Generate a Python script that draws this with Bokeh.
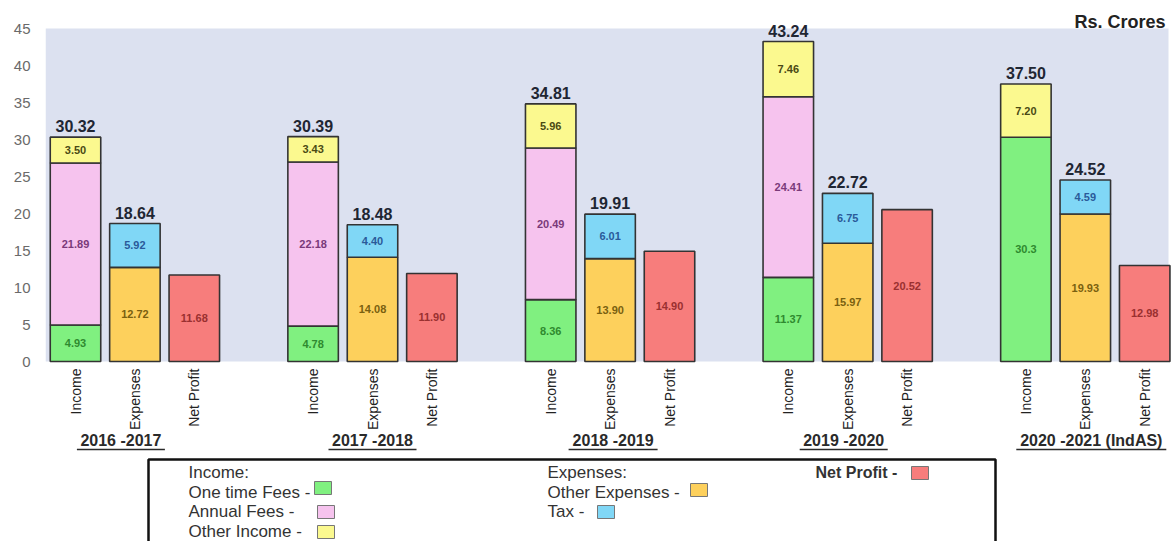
import math
from bokeh.plotting import figure
from bokeh.models import ColumnDataSource, Range1d, FixedTicker, BoxAnnotation
from bokeh.core.properties import value
from bokeh.embed import file_html
from bokeh.resources import INLINE

# ---------------- data (Rs. Crores) ----------------
years = ["2016 -2017", "2017 -2018", "2018 -2019", "2019 -2020", "2020 -2021 (IndAS)"]
bar_names = ["Income", "Expenses", "Net Profit"]
one_time_fees = ["4.93", "4.78", "8.36", "11.37", "30.3"]
annual_fees = ["21.89", "22.18", "20.49", "24.41", "0"]
other_income = ["3.50", "3.43", "5.96", "7.46", "7.20"]
other_expenses = ["12.72", "14.08", "13.90", "15.97", "19.93"]
tax = ["5.92", "4.40", "6.01", "6.75", "4.59"]
net_profit = ["11.68", "11.90", "14.90", "20.52", "12.98"]
y_ticks = [0, 5, 10, 15, 20, 25, 30, 35, 40, 45]
unit_label = "Rs. Crores"

# ---------------- style / layout ----------------
W, H = 1173, 541
LEFT = 45
X0_PX, SLOT_PX = 75.0, 59.4      # pixel centre of first bar, spacing between bar slots
Y0_PX, UNIT_PX = 361.0, 7.4      # pixel of value 0, pixels per crore
BG_RIGHT_PX = 1168
BAR_W = 0.85
FONT = "Liberation Sans"
OUTLINE = "#333333"
C_GREEN, C_PINK, C_YELLOW = "#80f080", "#f6c3ee", "#fbf98f"
C_ORANGE, C_BLUE, C_RED = "#fdd05c", "#80d7f6", "#f77d7c"
T_GREEN, T_PINK, T_YELLOW = "#2f8a2f", "#7a3a7a", "#4a4a14"
T_ORANGE, T_BLUE, T_RED = "#7a6010", "#2a5a9a", "#9a3030"
BG = "#dce1f0"

x_start = (LEFT - X0_PX) / SLOT_PX
x_end = (W - X0_PX) / SLOT_PX
y_start = (Y0_PX - H) / UNIT_PX
y_end = Y0_PX / UNIT_PX

p = figure(width=W, height=H, x_range=Range1d(x_start, x_end), y_range=Range1d(y_start, y_end),
           output_backend="svg", toolbar_location=None, x_axis_location=None,
           min_border_left=LEFT, min_border_right=0, min_border_top=0, min_border_bottom=0)
p.extra_x_ranges = {"px": Range1d(LEFT, W)}
p.extra_y_ranges = {"px": Range1d(H, 0)}
p.outline_line_color = None
p.xgrid.visible = False
p.ygrid.visible = False
p.background_fill_color = "white"
p.border_fill_color = "white"

p.add_layout(BoxAnnotation(bottom=min(y_ticks), top=max(y_ticks),
                           right=(BG_RIGHT_PX - X0_PX) / SLOT_PX,
                           fill_color=BG, fill_alpha=1.0, line_color=None, level="underlay"))

ax = p.yaxis[0]
ax.ticker = FixedTicker(ticks=y_ticks)
ax.axis_line_color = None
ax.major_tick_line_color = None
ax.minor_tick_line_color = None
ax.major_tick_out = 0
ax.major_tick_in = 0
ax.major_label_standoff = 15
ax.major_label_text_font = FONT
ax.major_label_text_font_size = "15px"
ax.major_label_text_color = "#6a6a6a"

n = len(years)
f = lambda arr: [float(v) for v in arr]
ot, af, oi = f(one_time_fees), f(annual_fees), f(other_income)
oe, tx, npf = f(other_expenses), f(tax), f(net_profit)
x_inc = [4 * g + 0 for g in range(n)]
x_exp = [4 * g + 1 for g in range(n)]
x_np = [4 * g + 2 for g in range(n)]


def add_stack(xs, bottoms, vals, txts, fill, tcolor):
    rows = [(x, b, v, t) for x, b, v, t in zip(xs, bottoms, vals, txts) if v > 0]
    src = ColumnDataSource(dict(
        x=[r[0] for r in rows],
        bottom=[r[1] for r in rows],
        top=[r[1] + r[2] for r in rows],
        mid=[r[1] + r[2] / 2 for r in rows],
        label=[r[3] for r in rows]))
    p.vbar(x="x", bottom="bottom", top="top", width=BAR_W, source=src,
           fill_color=fill, line_color=OUTLINE, line_width=1.6)
    p.text(x="x", y="mid", text="label", source=src, text_align="center", text_baseline="middle",
           text_font=value(FONT), text_font_size="11px", text_font_style="bold", text_color=tcolor)


zeros = [0.0] * n
add_stack(x_inc, zeros, ot, one_time_fees, C_GREEN, T_GREEN)
add_stack(x_inc, ot, af, annual_fees, C_PINK, T_PINK)
add_stack(x_inc, [a + b for a, b in zip(ot, af)], oi, other_income, C_YELLOW, T_YELLOW)
add_stack(x_exp, zeros, oe, other_expenses, C_ORANGE, T_ORANGE)
add_stack(x_exp, oe, tx, tax, C_BLUE, T_BLUE)
add_stack(x_np, zeros, npf, net_profit, C_RED, T_RED)

# totals above income / expense bars
inc_tot = [a + b + c for a, b, c in zip(ot, af, oi)]
exp_tot = [a + b for a, b in zip(oe, tx)]
tot_src = ColumnDataSource(dict(x=x_inc + x_exp, y=inc_tot + exp_tot,
                                label=[f"{v:.2f}" for v in inc_tot + exp_tot]))
p.text(x="x", y="y", text="label", source=tot_src, text_align="center", text_baseline="bottom",
       y_offset=-5, text_font=value(FONT), text_font_size="16px", text_font_style="bold",
       text_color="#1f2633")

# category labels under each bar (rotated)
cat_src = ColumnDataSource(dict(x=[4 * g + i for g in range(n) for i in range(3)],
                                y=[0.0] * (3 * n),
                                label=[bar_names[i] for g in range(n) for i in range(3)]))
p.text(x="x", y="y", text="label", source=cat_src, angle=math.pi / 2, text_align="right",
       text_baseline="middle", y_offset=7, text_font=value(FONT), text_font_size="14px",
       text_color="#222222")

# year group labels with underline
shift_px = [-14, 0, 3, -4, 6]
width_px = [88, 88, 89, 88, 150]
gx_px = [X0_PX + (4 * g + 1) * SLOT_PX + s for g, s in enumerate(shift_px)]
grp_src = ColumnDataSource(dict(x=gx_px, y=[440] * n, label=years,
                                x0=[c - w / 2 for c, w in zip(gx_px, width_px)],
                                x1=[c + w / 2 for c, w in zip(gx_px, width_px)],
                                yl=[449] * n))
p.text(x="x", y="y", text="label", source=grp_src, x_range_name="px", y_range_name="px",
       text_align="center", text_baseline="middle", text_font=value(FONT), text_font_size="16px",
       text_font_style="bold", text_color="#2a2a2a")
p.segment(x0="x0", y0="yl", x1="x1", y1="yl", source=grp_src, x_range_name="px", y_range_name="px",
          line_color="#2a2a2a", line_width=1.3)

# unit label
p.text(x=[1165], y=[21], text=[unit_label], x_range_name="px", y_range_name="px",
       text_align="right", text_baseline="middle", text_font=value(FONT), text_font_size="18px",
       text_font_style="bold", text_color="#222222")

# legend box
p.quad(left=[148], right=[995], top=[459], bottom=[560], x_range_name="px", y_range_name="px",
       fill_color="white", line_color="#111111", line_width=2.5)
leg_txt = ["Income:", "One time Fees -", "Annual  Fees -", "Other Income -",
           "Expenses:", "Other Expenses -", "Tax -"]
leg_x = [188, 188, 188, 188, 547, 547, 547]
leg_y = [472, 492, 511, 531, 472, 492, 511]
p.text(x=leg_x, y=leg_y, text=leg_txt, x_range_name="px", y_range_name="px",
       text_align="left", text_baseline="middle", text_font=value(FONT), text_font_size="17px",
       text_color="#333333")
p.text(x=[815], y=[472], text=["Net Profit -"], x_range_name="px", y_range_name="px",
       text_align="left", text_baseline="middle", text_font=value(FONT), text_font_size="16px",
       text_font_style="bold", text_color="#333333")
sw_left = [314, 317, 317, 690, 597, 911]
sw_top = [481, 505, 525, 483, 505, 466]
sw_fill = [C_GREEN, C_PINK, C_YELLOW, C_ORANGE, C_BLUE, C_RED]
p.quad(left=sw_left, right=[l + 17 for l in sw_left], top=sw_top, bottom=[t + 13 for t in sw_top],
       x_range_name="px", y_range_name="px", fill_color=sw_fill, line_color="#777777", line_width=1)

open("out.html", "w").write(file_html(p, INLINE))
